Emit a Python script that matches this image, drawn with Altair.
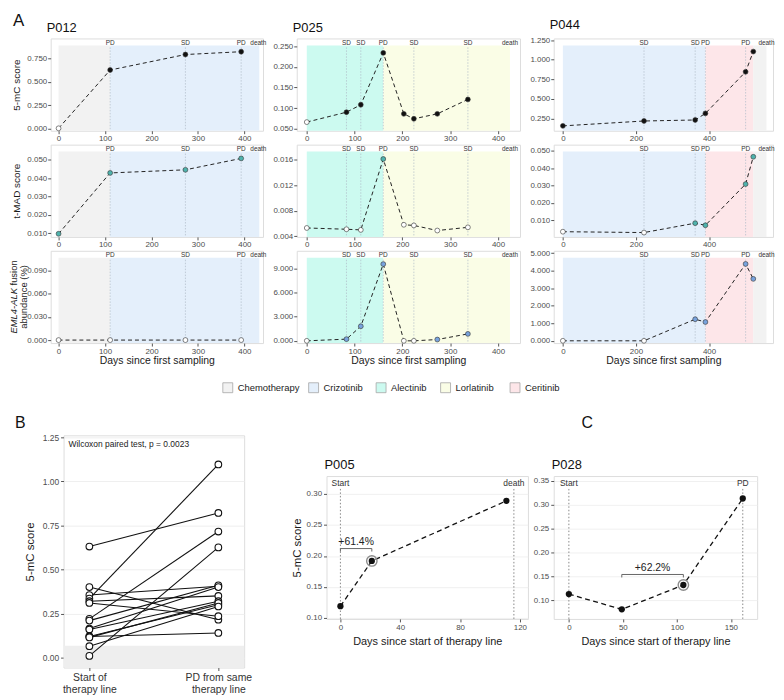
import altair as alt
import pandas as pd

FONT = "Liberation Sans"
TICK_GRAY = "#4d4d4d"
FRAME_GRAY = "#8f8f8f"
TEAL = "#4fb3ad"
BLUE = "#78a3dd"

THERAPIES = ["Chemotherapy", "Crizotinib", "Alectinib", "Lorlatinib", "Ceritinib"]
THERAPY_COLORS = ["#f2f2f2", "#e4effb", "#ccfaf0", "#fafde6", "#fde6e9"]
THERAPY_COLOR = dict(zip(THERAPIES, THERAPY_COLORS))

# ---------------- Panel A data ----------------
p012_days = [0, 111, 273, 393]
p012_5mc = [0.005, 0.625, 0.790, 0.820]
p012_5mc_detected = [0, 1, 1, 1]
p012_tmad = [0.0097, 0.0428, 0.0445, 0.0507]
p012_tmad_detected = [1, 1, 1, 1]
p012_fusion = [0.0, 0.0, 0.0, 0.0]
p012_fusion_detected = [0, 0, 0, 0]
p012_therapy = ["Chemotherapy", "Crizotinib"]
p012_therapy_start = [0, 111]
p012_therapy_end = [111, 432]
p012_event_day = [111, 273, 393, 430]
p012_event = ["PD", "SD", "PD", "death"]

p025_days = [0, 83, 113, 160, 203, 224, 273, 337]
p025_5mc = [0.066, 0.090, 0.108, 0.234, 0.086, 0.074, 0.086, 0.121]
p025_5mc_detected = [0, 1, 1, 1, 1, 1, 1, 1]
p025_tmad = [0.0053, 0.0051, 0.0050, 0.0161, 0.0058, 0.0057, 0.0049, 0.0054]
p025_tmad_detected = [0, 0, 0, 1, 0, 0, 0, 0]
p025_fusion = [0.0, 0.21, 1.81, 9.53, 0.0, 0.0, 0.16, 0.86]
p025_fusion_detected = [0, 1, 1, 1, 0, 0, 1, 1]
p025_therapy = ["Alectinib", "Lorlatinib"]
p025_therapy_start = [0, 160]
p025_therapy_end = [160, 425]
p025_event_day = [83, 113, 160, 224, 337, 425]
p025_event = ["SD", "SD", "PD", "SD", "SD", "death"]

p044_days = [0, 222, 362, 390, 500, 521]
p044_5mc = [0.158, 0.220, 0.233, 0.317, 0.846, 1.104]
p044_5mc_detected = [1, 1, 1, 1, 1, 1]
p044_tmad = [0.0034, 0.0029, 0.0083, 0.0071, 0.0308, 0.0465]
p044_tmad_detected = [0, 0, 1, 1, 1, 1]
p044_fusion = [0.0, 0.0, 1.23, 1.07, 4.38, 3.53]
p044_fusion_detected = [0, 0, 1, 1, 1, 1]
p044_therapy = ["Crizotinib", "Ceritinib", "Chemotherapy"]
p044_therapy_start = [0, 390, 521]
p044_therapy_end = [390, 521, 557]
p044_event_day = [222, 362, 390, 500, 557]
p044_event = ["SD", "SD", "PD", "PD", "death"]

x_ticks_400 = [0, 100, 200, 300, 400]
x_ticks_p044 = [0, 200, 400]
y_ticks_p012_5mc = [0, 0.25, 0.5, 0.75]
y_ticks_p025_5mc = [0.05, 0.10, 0.15, 0.20, 0.25]
y_ticks_p044_5mc = [0.25, 0.5, 0.75, 1.0, 1.25]
y_ticks_p012_tmad = [0.01, 0.02, 0.03, 0.04, 0.05]
y_ticks_p025_tmad = [0.004, 0.008, 0.012, 0.016]
y_ticks_p044_tmad = [0.01, 0.02, 0.03, 0.04, 0.05]
y_ticks_p012_fusion = [0, 0.03, 0.06, 0.09]
y_ticks_p025_fusion = [0, 3, 6, 9]
y_ticks_p044_fusion = [0, 1, 2, 3, 4, 5]

# ---------------- Panel B data ----------------
B_CATS = ["Start of\ntherapy line", "PD from same\ntherapy line"]
b_start = [0.63, 0.40, 0.355, 0.335, 0.32, 0.31, 0.22, 0.21, 0.165, 0.16, 0.12, 0.12, 0.115, 0.065, 0.01]
b_pd = [0.82, 0.215, 0.405, 1.095, 0.35, 0.235, 0.715, 0.41, 0.40, 0.32, 0.14, 0.30, 0.31, 0.29, 0.625]
b_threshold = 0.068
b_yticks = [0, 0.25, 0.5, 0.75, 1.0, 1.25]
b_test = "Wilcoxon paired test, p = 0.0023"

# ---------------- Panel C data ----------------
p005_days = [0, 21, 111]
p005_5mc = [0.119, 0.192, 0.289]
p005_event_day = [0, 116]
p005_event = ["Start", "death"]
p005_bracket = [0, 21]
p005_bracket_y = 0.212
p005_change = "+61.4%"
p005_highlight_day = 21

p028_days = [0, 49, 106, 161]
p028_5mc = [0.113, 0.081, 0.132, 0.313]
p028_event_day = [0, 161]
p028_event = ["Start", "PD"]
p028_bracket = [49, 106]
p028_bracket_y = 0.154
p028_change = "+62.2%"
p028_highlight_day = 106

TRANSPARENT = alt.ViewBackground(stroke="transparent")


def axis_common(**kw):
    base = dict(labelFont=FONT, titleFont=FONT, labelColor=TICK_GRAY, tickColor="#555",
                domain=False, titleFontWeight="normal", titleColor="#1a1a1a")
    base.update(kw)
    return alt.Axis(**base)


def panel_title(text, dx):
    return alt.TitleParams(text, anchor="start", frame="group", font=FONT, fontSize=13,
                           fontWeight="normal", offset=4, dx=dx, color="#111")


def a_panel(days, vals, detected, fill, therapy, t_start, t_end, ev_day, ev_lab,
            xdom, xticks, ydom, yticks, W, H, title=None, ytitle=None, xtitle=None,
            fusion_title=False, a_label_dy=None):
    pts = pd.DataFrame({"day": days, "val": vals,
                        "fillc": [fill if d else "white" for d in detected]})
    th = pd.DataFrame({"therapy": therapy, "s": t_start, "e": t_end,
                       "col": [THERAPY_COLOR[t] for t in therapy]})
    ev = pd.DataFrame({"d": ev_day, "lab": ev_lab})
    xs = alt.Scale(domain=xdom, nice=False, zero=False)
    ys = alt.Scale(domain=ydom, nice=False, zero=False)
    xax = axis_common(values=xticks, format="d", grid=False, tickSize=3, labelPadding=1,
                      labelFontSize=8, title=xtitle, titleFontSize=10.5, titlePadding=1)
    yax = axis_common(values=yticks, format=".3f", grid=False, tickSize=3, labelPadding=1,
                      labelFontSize=8, title=ytitle, titleFontSize=10, titlePadding=5)

    def X(f):
        return alt.X(f, type="quantitative", scale=xs, axis=xax)

    Y = alt.Y("val", type="quantitative", scale=ys, axis=yax)
    layers = [
        alt.Chart(th).mark_rect().encode(
            x=X("s"), x2=alt.X2("e"), y=alt.value(7), y2=alt.value(H),
            color=alt.Color("col:N", scale=None)),
        alt.Chart(ev[ev.lab != "death"]).mark_rule(color="#aeb9c6", strokeWidth=0.7, strokeDash=[1.5, 1.5]).encode(
            x=X("d"), y=alt.value(9), y2=alt.value(H)),
        alt.Chart(ev).mark_text(fontSize=6.5, font=FONT, color="#333", baseline="top").encode(
            x=X("d"), y=alt.value(1.5), text="lab:N"),
        alt.Chart(pts).mark_line(color="#222", strokeWidth=1, strokeDash=[4, 3]).encode(x=X("day"), y=Y),
        alt.Chart(pts).mark_circle(size=24, stroke="#333", strokeWidth=0.6, opacity=1).encode(
            x=X("day"), y=Y, fill=alt.Fill("fillc:N", scale=None)),
    ]
    one = pd.DataFrame({"t": [0]})
    if fusion_title:
        fs = 9.5
        w_it, w_total, w_sp = 45.9, 73.9, 2.6
        y0 = H / 2 + w_total / 2 - w_it
        layers += [
            alt.Chart(one).mark_text(text="EML4-ALK", angle=270, align="right", baseline="middle",
                                     fontStyle="italic", fontSize=fs, font=FONT, color="#1a1a1a").encode(
                x=alt.value(-37), y=alt.value(y0)),
            alt.Chart(one).mark_text(text="fusion", angle=270, align="left", baseline="middle",
                                     fontSize=fs, font=FONT, color="#1a1a1a").encode(
                x=alt.value(-37), y=alt.value(y0 - w_sp)),
            alt.Chart(one).mark_text(text="abundance (%)", angle=270, align="center", baseline="middle",
                                     fontSize=fs, font=FONT, color="#1a1a1a").encode(
                x=alt.value(-27), y=alt.value(H / 2)),
        ]
    if a_label_dy is not None:
        layers.append(alt.Chart(one).mark_text(text="A", fontSize=17, font=FONT, align="left",
                                               baseline="top", color="#111").encode(
            x=alt.value(-38), y=alt.value(a_label_dy)))
    ch = alt.layer(*layers).properties(width=W, height=H)
    if title:
        ch = ch.properties(title=panel_title(title, -4))
    return ch


WA = [214, 225, 221]
HA = 93
ROW_GAP = 14
XT = "Days since first sampling"
a_charts = [
    a_panel(p012_days, p012_5mc, p012_5mc_detected, "#111", p012_therapy, p012_therapy_start, p012_therapy_end,
            p012_event_day, p012_event, [-17, 440], x_ticks_400, [-0.021, 0.961], y_ticks_p012_5mc, WA[0], HA,
            title="P012", ytitle="5-mC score"),
    a_panel(p025_days, p025_5mc, p025_5mc_detected, "#111", p025_therapy, p025_therapy_start, p025_therapy_end,
            p025_event_day, p025_event, [-21, 446], x_ticks_400, [0.045, 0.269], y_ticks_p025_5mc, WA[1], HA,
            title="P025"),
    a_panel(p044_days, p044_5mc, p044_5mc_detected, "#111", p044_therapy, p044_therapy_start, p044_therapy_end,
            p044_event_day, p044_event, [-25, 575], x_ticks_p044, [0.096, 1.271], y_ticks_p044_5mc, WA[2], HA,
            title="P044"),
    a_panel(p012_days, p012_tmad, p012_tmad_detected, TEAL, p012_therapy, p012_therapy_start, p012_therapy_end,
            p012_event_day, p012_event, [-17, 440], x_ticks_400, [0.008, 0.0582], y_ticks_p012_tmad, WA[0], HA,
            ytitle="t-MAD score", a_label_dy=-(HA + ROW_GAP) - 26),
    a_panel(p025_days, p025_tmad, p025_tmad_detected, TEAL, p025_therapy, p025_therapy_start, p025_therapy_end,
            p025_event_day, p025_event, [-21, 446], x_ticks_400, [0.0039, 0.01835], y_ticks_p025_tmad, WA[1], HA),
    a_panel(p044_days, p044_tmad, p044_tmad_detected, TEAL, p044_therapy, p044_therapy_start, p044_therapy_end,
            p044_event_day, p044_event, [-25, 575], x_ticks_p044, [0.0004, 0.0535], y_ticks_p044_tmad, WA[2], HA),
    a_panel(p012_days, p012_fusion, p012_fusion_detected, BLUE, p012_therapy, p012_therapy_start, p012_therapy_end,
            p012_event_day, p012_event, [-17, 440], x_ticks_400, [-0.0039, 0.1157], y_ticks_p012_fusion, WA[0], HA,
            xtitle=XT, fusion_title=True),
    a_panel(p025_days, p025_fusion, p025_fusion_detected, BLUE, p025_therapy, p025_therapy_start, p025_therapy_end,
            p025_event_day, p025_event, [-21, 446], x_ticks_400, [-0.28, 11.18], y_ticks_p025_fusion, WA[1], HA,
            xtitle=XT),
    a_panel(p044_days, p044_fusion, p044_fusion_detected, BLUE, p044_therapy, p044_therapy_start, p044_therapy_end,
            p044_event_day, p044_event, [-25, 575], x_ticks_p044, [-0.13, 5.13], y_ticks_p044_fusion, WA[2], HA,
            xtitle=XT),
]
A = alt.concat(*a_charts, columns=3, spacing={"row": ROW_GAP, "column": 34}, bounds="flush", align="each")

# ---------------- legend ----------------
legend_x = [178.5, 265, 333, 398, 468]
LW = 700
ldf = pd.DataFrame({"therapy": THERAPIES, "x": legend_x, "col": THERAPY_COLORS})
lx = alt.X("x:Q", scale=alt.Scale(domain=[0, LW], nice=False, zero=False), axis=None)
legend_chart = alt.layer(
    alt.Chart(ldf).mark_square(size=100, stroke="#a6a6a6", strokeWidth=0.8, opacity=1).encode(
        x=lx, y=alt.value(6), fill=alt.Fill("col:N", scale=None)),
    alt.Chart(ldf).mark_text(align="left", baseline="middle", dx=10, fontSize=9.5, font=FONT, color="#222").encode(
        x=lx, y=alt.value(6), text="therapy:N"),
).properties(width=LW, height=14, view=TRANSPARENT)

# ---------------- Panel B ----------------
BW, BH = 182, 234
n = len(b_start)
bdf = pd.DataFrame({"pair": list(range(n)) * 2, "when": [B_CATS[0]] * n + [B_CATS[1]] * n,
                    "score": b_start + b_pd})
bys = alt.Scale(domain=[-0.056, 1.26], nice=False, zero=False)
byax = axis_common(values=b_yticks, format=".2f", grid=True, gridColor="#ebebeb", gridWidth=0.8, tickSize=3,
                   labelPadding=2, labelFontSize=8.5, title="5-mC score", titleFontSize=11.5, titlePadding=7)
bxs = alt.Scale(type="point", domain=B_CATS, padding=0.2)
bxax = axis_common(labelExpr="split(datum.label, '\\n')", labelAngle=0, labelFontSize=10.5, labelColor="#333",
                   labelLineHeight=12.5, tickSize=3, labelPadding=2, title=None, grid=False)
BX = alt.X("when:N", scale=bxs, axis=bxax)
BY = alt.Y("score:Q", scale=bys, axis=byax)
B = alt.layer(
    alt.Chart(pd.DataFrame({"lod": [b_threshold]})).mark_rect(color="#eeeeee").encode(
        x=alt.value(0), x2=alt.value(BW), y=alt.Y("lod:Q", scale=bys, axis=byax), y2=alt.value(BH)),
    alt.Chart(bdf).mark_line(color="#111", strokeWidth=1.1).encode(x=BX, y=BY, detail="pair:N"),
    alt.Chart(bdf).mark_circle(size=45, fill="white", stroke="#111", strokeWidth=1.1, opacity=1).encode(x=BX, y=BY),
    alt.Chart(pd.DataFrame({"t": [b_test]})).mark_text(align="left", baseline="top", fontSize=8.5, font=FONT,
                                                       color="#222").encode(
        x=alt.value(5), y=alt.value(5), text="t:N"),
).properties(width=BW, height=BH)


# ---------------- Panel C ----------------
def c_panel(days, vals, ev_day, ev_lab, br, br_y, br_txt, hl, xdom, xticks, ydom, yticks, W, H, title,
            ytitle=None):
    pts = pd.DataFrame({"day": days, "val": vals})
    ev = pd.DataFrame({"d": ev_day, "lab": ev_lab})
    depth = 3 * (ydom[1] - ydom[0]) / H
    brd = pd.DataFrame({"s": [br[0]], "e": [br[1]], "y": [br_y], "yt": [br_y - depth],
                        "mid": [(br[0] + br[1]) / 2], "txt": [br_txt]})
    xs = alt.Scale(domain=xdom, nice=False, zero=False)
    ys = alt.Scale(domain=ydom, nice=False, zero=False)
    xax = axis_common(values=xticks, format="d", grid=False, tickSize=3, labelPadding=2, labelFontSize=8,
                      title="Days since start of therapy line", titleFontSize=11, titlePadding=4)
    yax = axis_common(values=yticks, format=".2f", grid=True, gridColor="#ececec", gridWidth=0.8, tickSize=3,
                      labelPadding=2, labelFontSize=8, title=ytitle, titleFontSize=11.5, titlePadding=4)

    def X(f):
        return alt.X(f, type="quantitative", scale=xs, axis=xax)

    def Y(f):
        return alt.Y(f, type="quantitative", scale=ys, axis=yax)

    layers = [
        alt.Chart(ev).mark_rule(color="#7a7a7a", strokeWidth=0.9, strokeDash=[1.5, 2]).encode(
            x=X("d"), y=alt.value(13), y2=alt.value(H)),
        alt.Chart(ev).mark_text(fontSize=8.5, font=FONT, baseline="top", color="#333").encode(
            x=X("d"), y=alt.value(3), text="lab:N"),
        alt.Chart(brd).mark_rule(color="#666", strokeWidth=1).encode(x=X("s"), x2="e", y=Y("y")),
        alt.Chart(brd).mark_rule(color="#666", strokeWidth=1).encode(x=X("s"), y=Y("y"), y2="yt"),
        alt.Chart(brd).mark_rule(color="#666", strokeWidth=1).encode(x=X("e"), y=Y("y"), y2="yt"),
        alt.Chart(brd).mark_text(fontSize=10.5, font=FONT, baseline="bottom", dy=-2, color="#222").encode(
            x=X("mid"), y=Y("y"), text="txt:N"),
        alt.Chart(pts).mark_line(color="#111", strokeWidth=1.3, strokeDash=[5, 3.5]).encode(x=X("day"), y=Y("val")),
        alt.Chart(pts[pts.day == hl]).mark_point(shape="circle", size=110, color="#8c8c8c", strokeWidth=1.4,
                                                 filled=False, opacity=1).encode(x=X("day"), y=Y("val")),
        alt.Chart(pts).mark_circle(size=40, color="#111", opacity=1).encode(x=X("day"), y=Y("val")),
    ]
    return alt.layer(*layers).properties(width=W, height=H, title=panel_title(title, -2))


P005 = c_panel(p005_days, p005_5mc, p005_event_day, p005_event, p005_bracket, p005_bracket_y, p005_change,
               p005_highlight_day, [-9.3, 125.4], [0, 40, 80, 120], [0.0985, 0.329],
               [0.10, 0.15, 0.20, 0.25, 0.30], 203, 144, "P005", ytitle="5-mC score")
P028 = c_panel(p028_days, p028_5mc, p028_event_day, p028_event, p028_bracket, p028_bracket_y, p028_change,
               p028_highlight_day, [-14, 174.3], [0, 50, 100, 150], [0.061, 0.360],
               [0.10, 0.15, 0.20, 0.25, 0.30, 0.35], 205, 144, "P028")


def label_chart(letter, x, w=10, h=14):
    return alt.Chart(pd.DataFrame({"t": [letter]})).mark_text(
        fontSize=16, font=FONT, align="left", baseline="middle", color="#111").encode(
        x=alt.value(x), y=alt.value(7), text="t:N").properties(width=w, height=h, view=TRANSPARENT)


dummy = alt.Chart(pd.DataFrame({"t": [""]})).mark_text().encode(
    x=alt.value(0), y=alt.value(0), text="t:N").properties(width=1, height=1, view=TRANSPARENT)

Bcol = alt.vconcat(label_chart("B", -49), B, spacing=0)
Bgroup = alt.hconcat(dummy, Bcol, spacing=-39)
Cv = alt.vconcat(label_chart("C", 257), alt.hconcat(P005, P028, spacing=3), spacing=26)
BC = alt.hconcat(Bgroup, Cv, spacing=37)

chart = alt.vconcat(A, legend_chart, BC, spacing=13).properties(
    padding=0, background="white"
).configure_view(stroke=FRAME_GRAY, strokeWidth=1).configure(font=FONT)

chart.save("out.html", embed_options={"renderer": "svg", "actions": False})
